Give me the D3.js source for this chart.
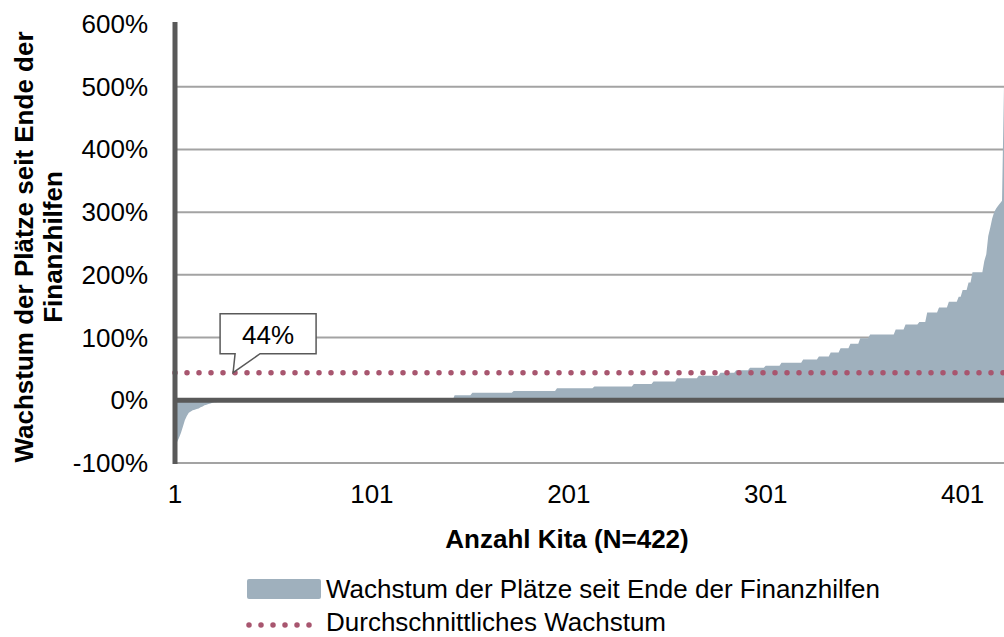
<!DOCTYPE html>
<html>
<head>
<meta charset="utf-8">
<script src="https://cdn.jsdelivr.net/npm/d3@7"></script>
<style>
  html, body { margin: 0; padding: 0; background: #fff; }
  svg { display: block; font-family: "Liberation Sans", Arial, sans-serif; }
</style>
</head>
<body>
<svg id="chart" width="1004" height="637"></svg>
<script>
// ---- Data ----
const seriesName = "Wachstum der Plätze seit Ende der Finanzhilfen";
const averageName = "Durchschnittliches Wachstum";
const averageGrowth = 0.44;
// growth per Kita in %, sorted ascending (N = 422)
const growthPercent = [
  -73,-67,-60,-52,-42,-32,-25,-20,-18,-16,-15,-14,-13,-11,-10,-8,-7,-6,-5,-4,
  -3,-3,-2,-2,-1,
  0,0,0,0,0,0,0,0,0,0,0,0,0,0,0,0,0,0,0,0,
  0,0,0,0,0,0,0,0,0,0,0,0,0,0,0,0,0,0,0,0,
  0,0,0,0,0,0,0,0,0,0,0,0,0,0,0,0,0,0,0,0,
  0,0,0,0,0,0,0,0,0,0,0,0,0,0,0,0,0,0,0,0,
  0,0,0,0,0,0,0,0,0,0,0,0,0,0,0,0,0,0,0,0,
  0,0,0,0,0,0,0,0,0,0,0,0,0,0,0,0,0,
  8,8,8,8,8,8,8,8,8,
  12,12,12,12,12,12,12,12,12,12,12,12,12,12,12,12,12,12,12,12,12,
  15,15,15,15,15,15,15,15,15,15,15,15,15,15,15,15,15,15,15,15,15,15,
  19,19,19,19,19,19,19,19,19,19,19,19,19,19,19,19,19,19,19,
  22,22,22,22,22,22,22,22,22,22,22,22,22,22,22,22,22,22,22,22,
  26,26,26,26,26,26,26,26,26,26,
  30,30,30,30,30,30,30,30,30,30,30,30,
  35,35,35,35,35,35,35,35,35,35,35,
  39,39,39,39,39,39,39,39,39,39,39,
  44,44,44,44,44,44,44,44,
  48,48,48,48,48,48,48,
  52,52,52,52,52,52,52,52,
  55,55,55,55,55,55,55,55,
  60,60,60,60,60,60,60,60,60,60,60,
  65,65,65,65,65,65,65,65,
  70,70,70,70,70,70,
  76,76,76,76,76,
  83,83,83,83,83,
  90,90,90,90,90,
  99,99,99,99,99,
  105,105,105,105,105,105,105,105,105,105,105,105,105,
  113,113,113,113,113,
  121,121,121,121,121,121,121,
  125,125,125,125,
  140,140,140,140,140,140,
  148,148,148,148,148,
  157,157,157,157,157,
  165,165,
  176,176,176,
  188,188,
  204,204,204,204,204,204,
  222,233,262,275,290,300,306,310,314,318,502
];
const yTicks = [-1, 0, 1, 2, 3, 4, 5, 6];
const xTicks = [1, 101, 201, 301, 401];
const xTitle = "Anzahl Kita (N=422)";
const yTitleLines = ["Wachstum der Plätze seit Ende der", "Finanzhilfen"];
const calloutLabel = "44%";

// ---- Setup ----
const svg = d3.select("#chart");
const N = growthPercent.length;
const data = growthPercent.map((v, i) => ({ idx: i + 1, v: v / 100 }));

const x = d3.scaleLinear().domain([1, N]).range([175, 1004]);
const y = d3.scaleLinear().domain([-1, 6]).range([463, 24]);

const fmtPct = d => Math.round(d * 100) + "%";
const axisDark = "#595959";
const gridGray = "#a3a3a3";
const areaFill = "#9fb0bd";
const dotColor = "#a8566f";

// gridlines (none at the top value)
svg.append("g")
  .selectAll("line")
  .data(yTicks.filter(t => t !== 0 && t !== 6))
  .join("line")
  .attr("x1", x(1)).attr("x2", 1004)
  .attr("y1", d => y(d)).attr("y2", d => y(d))
  .attr("stroke", gridGray).attr("stroke-width", 2);

// area
const area = d3.area()
  .x(d => x(d.idx))
  .y0(y(0))
  .y1(d => y(d.v));
svg.append("path")
  .datum(data)
  .attr("d", area)
  .attr("fill", areaFill);

// zero line
svg.append("line")
  .attr("x1", x(1)).attr("x2", 1004)
  .attr("y1", y(0)).attr("y2", y(0))
  .attr("stroke", axisDark).attr("stroke-width", 5);

// average dotted line
svg.append("line")
  .attr("x1", x(1)).attr("x2", 1004)
  .attr("y1", y(averageGrowth)).attr("y2", y(averageGrowth))
  .attr("stroke", dotColor).attr("stroke-width", 5.5)
  .attr("stroke-linecap", "round")
  .attr("stroke-dasharray", "0,12");

// left axis line
svg.append("line")
  .attr("x1", x(1)).attr("x2", x(1))
  .attr("y1", y(6) - 2).attr("y2", y(-1) + 1)
  .attr("stroke", axisDark).attr("stroke-width", 5);

// y tick labels
svg.append("g")
  .selectAll("text")
  .data(yTicks)
  .join("text")
  .attr("x", 148)
  .attr("y", d => y(d) + 9)
  .attr("text-anchor", "end")
  .attr("font-size", 26)
  .attr("fill", "#000")
  .text(fmtPct);

// x tick labels
svg.append("g")
  .selectAll("text")
  .data(xTicks)
  .join("text")
  .attr("x", d => x(d))
  .attr("y", 503)
  .attr("text-anchor", "middle")
  .attr("font-size", 26)
  .attr("fill", "#000")
  .text(d => d);

// x title
svg.append("text")
  .attr("x", 567)
  .attr("y", 548)
  .attr("text-anchor", "middle")
  .attr("font-size", 26)
  .attr("font-weight", "bold")
  .attr("fill", "#000")
  .text(xTitle);

// y title (two lines, rotated)
const yTitle = svg.append("text")
  .attr("transform", "translate(33,247) rotate(-90)")
  .attr("text-anchor", "middle")
  .attr("font-size", 26)
  .attr("font-weight", "bold")
  .attr("fill", "#000");
yTitle.append("tspan").attr("x", 0).attr("y", 0).text(yTitleLines[0]);
yTitle.append("tspan").attr("x", 0).attr("y", 29).text(yTitleLines[1]);

// callout for average
const tipX = x(30.5), tipY = y(averageGrowth);
const bx0 = tipX - 13, bx1 = tipX + 83, by0 = tipY - 59, by1 = tipY - 19;
svg.append("path")
  .attr("d", `M${bx0},${by0} H${bx1} V${by1} H${tipX + 27} L${tipX},${tipY} L${tipX + 2},${by1} H${bx0} Z`)
  .attr("fill", "#fff")
  .attr("stroke", axisDark)
  .attr("stroke-width", 1.5);
svg.append("text")
  .attr("x", (bx0 + bx1) / 2)
  .attr("y", by1 - 10)
  .attr("text-anchor", "middle")
  .attr("font-size", 26)
  .attr("fill", "#000")
  .text(calloutLabel);

// legend
const lg = svg.append("g");
lg.append("rect")
  .attr("x", 247).attr("y", 579).attr("width", 74).attr("height", 20)
  .attr("rx", 2).attr("fill", areaFill);
lg.append("text")
  .attr("x", 326).attr("y", 598)
  .attr("font-size", 26).attr("fill", "#000")
  .text(seriesName);
lg.append("line")
  .attr("x1", 249).attr("x2", 311)
  .attr("y1", 625).attr("y2", 625)
  .attr("stroke", dotColor).attr("stroke-width", 5.5)
  .attr("stroke-linecap", "round")
  .attr("stroke-dasharray", "0,12");
lg.append("text")
  .attr("x", 326).attr("y", 631)
  .attr("font-size", 26).attr("fill", "#000")
  .text(averageName);
</script>
</body>
</html>
